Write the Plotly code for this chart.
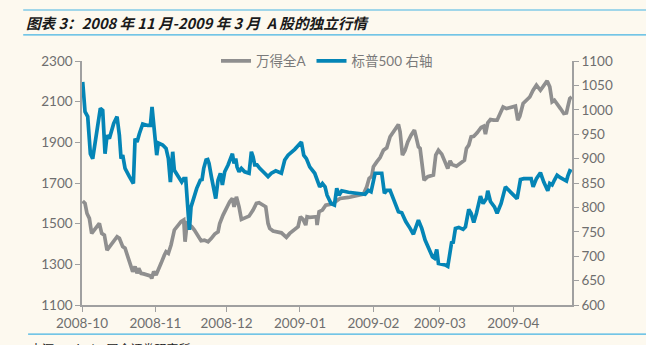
import pandas as pd
import plotly.graph_objects as go

start = pd.Timestamp("2008-10-01")

# Wind All-A index (left axis): days since 2008-10-01, values
wind_days = [0.29, 1.28, 2.12, 3.11, 4.09, 5.22, 6.63, 7.33, 8.32, 9.44, 10.57, 11.55, 12.96,
             14.79, 15.77, 17.18, 18.17, 19.29, 20.42, 21.4, 22.39, 23.23, 23.93, 24.92, 26.04,
             27.73, 28.86, 29.42, 30.27, 31.25, 32.23, 33.36, 34.77, 35.47, 36.45, 37.58, 38.99,
             40.4, 41.8, 42.93, 43.49, 44.33, 45.32, 46.31, 47.44, 48.84, 50.25, 51.65,
             53.2, 54.6, 56.01, 57.42, 58.12, 59.53, 60.94, 62.34, 63.47, 64.17, 65.16, 66.28,
             67.27, 68.67, 70.5, 72.19, 73.6, 74.72, 76.41, 77.54, 78.52, 79.23, 80.63, 82.74,
             84.15, 86.26, 87.67, 89.78, 91.19, 92.17, 93.3, 94.42, 94.99, 96.11, 97.52, 98.92,
             99.21, 100.05, 101.46, 102.87, 104.55,
             106.1, 107.51, 108.92, 112.44, 115.25, 118.77, 120.17, 121.16, 122.29, 122.99,
             124.4, 125.8, 127.21, 128.62, 130.02, 131.43, 132.42, 133.54, 134.25, 135.23,
             136.36, 137.48, 138.89, 140.29, 141.0, 141.98, 142.69, 143.39, 144.37, 145.92,
             147.33, 148.31, 149.3, 150.43, 151.83, 152.96, 154.37, 155.35,
             156.2, 158.03, 159.72, 161.4, 162.25, 163.23, 164.22, 165.34, 166.75, 168.44,
             169.56, 170.27, 171.25, 172.38, 173.79, 175.19, 176.32, 177.72, 179.13, 180.82,
             182.93, 183.92, 184.76, 186.17, 187.57, 188.98, 190.39, 191.79, 193.48, 194.89,
             196.3, 197.42, 198.41, 199.39, 200.52, 201.93, 203.33, 204.46, 205.02, 205.87, 206.7]
wind_vals = [1611, 1600, 1550, 1526, 1452, 1469, 1485, 1501, 1452, 1444, 1370, 1387, 1411,
             1436, 1428, 1387, 1379, 1338, 1305, 1264, 1289, 1256, 1280, 1256, 1253,
             1248, 1243, 1231, 1264, 1248, 1272, 1305, 1346, 1362, 1354, 1395, 1469,
             1493, 1510, 1518, 1411, 1501, 1493, 1485, 1469, 1444, 1416, 1419,
             1411, 1428, 1449, 1460, 1501, 1542, 1575, 1608, 1624, 1583, 1632, 1583,
             1521, 1526, 1537, 1567, 1600, 1603, 1591, 1583, 1501, 1477, 1464, 1460,
             1455, 1433, 1452, 1472, 1485, 1534, 1521, 1493, 1534, 1531, 1534, 1534,
             1493, 1559, 1567, 1591, 1595,
             1600, 1613, 1624, 1629, 1636, 1645, 1681, 1722, 1734, 1780,
             1804, 1825, 1861, 1873, 1927, 1952, 1976, 1988, 1952, 1837,
             1861, 1902, 1935, 1960, 1927, 1878, 1870, 1796, 1714, 1731,
             1734, 1739, 1837, 1861, 1842, 1812, 1771, 1809,
             1791, 1783, 1796, 1812, 1870, 1886, 1927, 1930, 1947, 1973,
             1979, 1940, 1996, 2012, 2009, 2009, 2038, 2074, 2066, 2071,
             2078, 2009, 2028, 2091, 2107, 2123, 2156, 2181, 2156, 2181,
             2202, 2173, 2099, 2107, 2091, 2066, 2042, 2045, 2074, 2115, 2123]

# S&P 500 (right axis): days since 2008-10-01, values
spx_days = [0.29, 1.28, 2.41, 3.53, 4.52, 5.92, 7.75, 8.74, 9.72, 10.57, 11.55, 13.38, 14.79,
            15.77, 16.48, 17.18, 18.17, 20.0, 21.68, 22.39, 23.23, 24.21, 25.62, 27.73, 28.86,
            29.56, 30.55, 31.53, 32.23, 34.06, 35.47, 36.45, 37.3, 38.28, 38.99, 40.4, 42.08,
            42.93, 43.77, 44.62, 45.32, 46.02, 47.15, 48.42, 49.96, 50.67, 51.37, 52.35, 53.06,
            53.62, 54.6, 55.59, 56.43, 57.42, 58.4, 59.25, 60.23, 61.64, 63.47, 64.17, 64.88,
            65.44, 66.28, 67.27, 68.67, 70.5, 71.49, 72.19, 72.9, 73.88, 75.01, 77.12, 78.52,
            79.93, 81.76, 84.15, 84.86, 85.56, 86.97, 89.78, 92.59, 93.58, 94.7, 96.11, 98.22,
            99.21, 100.33, 101.46, 102.58, 103.43, 104.55,
            105.12, 106.53, 107.51, 108.5, 109.62, 112.44, 115.25, 119.47, 120.88, 122.0,
            123.69, 125.8, 126.51, 127.63, 128.62, 130.02, 131.43, 133.54, 134.95, 136.64,
            138.47, 139.87, 141.98, 143.39, 144.8, 146.2, 147.89, 148.74, 149.72, 150.43,
            151.83, 153.24, 154.37, 155.07, 156.05,
            156.6, 157.6, 159.01, 160.84, 161.83, 163.23, 164.22, 165.34, 166.47, 168.16,
            169.28, 170.69, 171.25, 172.38, 174.07, 175.19, 176.88, 178.71, 180.12, 182.23,
            183.63, 185.04, 186.45, 189.55, 190.39, 191.79, 193.48, 194.89, 196.58, 197.42,
            198.41, 199.39, 200.52, 201.93, 203.33, 204.46, 205.02, 205.87, 206.7]
spx_vals = [1057, 996, 986, 910, 900, 945, 1003, 999, 910, 948, 941, 972, 986,
            948, 900, 907, 880, 863, 849, 941, 934, 951, 971, 968, 968,
            1006, 962, 907, 932, 928, 921, 900, 852, 914, 876, 866, 852,
            859, 859, 801, 754, 801, 822, 839, 856, 857, 880, 897, 898,
            890, 863, 835, 818, 856, 870, 846, 873, 887, 910, 890, 900,
            883, 873, 880, 873, 870, 914, 904, 887, 887, 880, 870, 863,
            870, 875, 870, 883, 897, 907, 919, 934, 907, 900, 883, 870,
            859, 842, 849, 842, 825, 812,
            808, 805, 839, 825, 834, 831, 830, 827, 835, 832,
            870, 871, 870, 829, 835, 835, 818, 791, 789, 771,
            757, 745, 774, 757, 733, 716, 699, 696, 714, 685,
            684, 682, 679, 699, 730,
            726, 757, 759, 755, 760, 796, 788, 769, 788, 823,
            808, 818, 834, 812, 801, 788, 808, 842, 835, 825,
            818, 857, 859, 859, 842, 859, 871, 852, 834, 849,
            846, 856, 866, 861, 856, 854, 864, 875, 873]

tick_dates = ["2008-10-01", "2008-11-01", "2008-12-01", "2009-01-01",
              "2009-02-01", "2009-03-01", "2009-04-01"]
tick_labels = ["2008-10", "2008-11", "2008-12", "2009-01", "2009-02", "2009-03", "2009-04"]

wind_x = start + pd.to_timedelta(wind_days, unit="D")
spx_x = start + pd.to_timedelta(spx_days, unit="D")

GRAY = "#8F8F8F"
BLUE = "#0485B6"
BG = "#FDF9EF"
AXIS = "#A0A0A0"
TXT = "#6E6E6E"
FONT = "Lato, 'Noto Sans CJK SC', sans-serif"

fig = go.Figure()
fig.add_trace(go.Scatter(x=wind_x, y=wind_vals, name="万得全A", mode="lines",
                         line=dict(color=GRAY, width=3.7)))
fig.add_trace(go.Scatter(x=spx_x, y=spx_vals, name="标普500 右轴", mode="lines",
                         line=dict(color=BLUE, width=3.7), yaxis="y2"))

x_end = start + pd.Timedelta(days=206.8)

fig.update_layout(
    width=646, height=345,
    margin=dict(l=82, r=74, t=61, b=40),
    paper_bgcolor=BG, plot_bgcolor=BG,
    font=dict(family=FONT, size=13, color=TXT),
    showlegend=True,
    legend=dict(orientation="h", x=0.5, xanchor="center", y=1.0, yanchor="middle",
                bgcolor="rgba(0,0,0,0)", font=dict(size=13.5, color="#7A7A7A"),
                itemwidth=30, tracegroupgap=0),
    xaxis=dict(type="date", range=[start, x_end], tickmode="array",
               tickvals=tick_dates, ticktext=tick_labels, showgrid=False,
               showline=True, linecolor=AXIS, linewidth=1.5, ticks="outside",
               ticklen=5, tickcolor=AXIS, tickwidth=1.2, zeroline=False,
               tickfont=dict(size=13.5, color=TXT)),
    yaxis=dict(range=[1100, 2300], tickvals=[1100, 1300, 1500, 1700, 1900, 2100, 2300],
               showgrid=False, showline=True, linecolor=AXIS, linewidth=1.5,
               ticks="outside", ticklen=5, tickcolor=AXIS, tickwidth=1.2, zeroline=False,
               tickfont=dict(size=13.5, color=TXT)),
    yaxis2=dict(range=[600, 1100], tickvals=list(range(600, 1101, 50)), overlaying="y",
                side="right", showgrid=False, showline=True, linecolor=AXIS, linewidth=1.5,
                ticks="outside", ticklen=5, tickcolor=AXIS, tickwidth=1.2, zeroline=False,
                tickfont=dict(size=13.5, color=TXT)),
)

# Decorative header / footer rules
fig.add_shape(type="line", xref="paper", yref="paper", x0=-0.12, x1=1.16, y0=1.209, y1=1.209,
              line=dict(color="#45B3E3", width=1.2))
fig.add_shape(type="line", xref="paper", yref="paper", x0=-0.12, x1=1.16, y0=1.107, y1=1.107,
              line=dict(color="#45B3E3", width=1.2))
fig.add_shape(type="line", xref="paper", yref="paper", x0=-0.11, x1=1.16, y0=-0.119, y1=-0.119,
              line=dict(color="#45B3E3", width=1.2))

fig.add_annotation(xref="paper", yref="paper", x=-0.118, y=1.158, xanchor="left", yanchor="middle",
                   text="<b><i>图表 3：2008 年 11 月-2009 年 3 月  A 股的独立行情</i></b>",
                   showarrow=False, font=dict(size=14.6, color="#1a1a1a",
                                              family="'Noto Sans CJK SC', sans-serif"))
fig.add_annotation(xref="paper", yref="paper", x=-0.11, y=-0.135, xanchor="left", yanchor="top",
                   text="来源：Wind，国金证券研究所", showarrow=False,
                   font=dict(size=12, color="#222222", family="'Noto Sans CJK SC', sans-serif"))

fig.write_html("out.html")
